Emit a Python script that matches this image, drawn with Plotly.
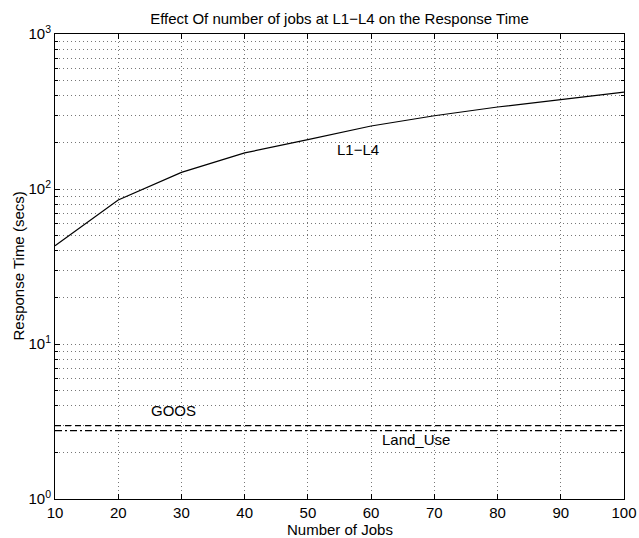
import plotly.graph_objects as go

jobs = [10, 20, 30, 40, 50, 60, 70, 80, 90, 100]
l1_l4 = [43, 85, 128, 171, 208, 255, 297, 338, 377, 422]
goos = [2.97] * len(jobs)
land_use = [2.76] * len(jobs)

x_ticks = [10, 20, 30, 40, 50, 60, 70, 80, 90, 100]
y_ticks = [1, 10, 100, 1000]
y_ticktext = ["10<sup>0</sup>", "10<sup>1</sup>", "10<sup>2</sup>", "10<sup>3</sup>"]

FONT = "Liberation Sans, Arial, Helvetica, sans-serif"
FS = 15

fig = go.Figure()
fig.add_trace(go.Scatter(x=jobs, y=l1_l4, mode="lines", line=dict(color="black", width=1.2), showlegend=False))
fig.add_trace(go.Scatter(x=jobs, y=goos, mode="lines", line=dict(color="black", width=1.2, dash="6px,4px"), showlegend=False))
fig.add_trace(go.Scatter(x=jobs, y=land_use, mode="lines", line=dict(color="black", width=1.2, dash="7px,3px,2px,3px"), showlegend=False))

fig.add_annotation(x=57.9, y=2.252, xref="x", yref="y", text="L1\u2212L4", showarrow=False,
                   font=dict(size=FS, color="black", family=FONT))
fig.add_annotation(x=28.7, y=0.574, xref="x", yref="y", text="GOOS", showarrow=False,
                   font=dict(size=FS, color="black", family=FONT))
fig.add_annotation(x=67.1, y=0.387, xref="x", yref="y", text="Land_Use", showarrow=False,
                   font=dict(size=FS, color="black", family=FONT))
# axis titles
fig.add_annotation(x=0.5, y=(499 - 529.5) / 465, xref="paper", yref="paper", text="Number of Jobs",
                   showarrow=False, xanchor="center", yanchor="middle",
                   font=dict(size=FS, color="black", family=FONT))
fig.add_annotation(x=(18 - 55) / 569, y=0.5, xref="paper", yref="paper", text="Response Time (secs)",
                   showarrow=False, xanchor="center", yanchor="middle", textangle=-90,
                   font=dict(size=FS, color="black", family=FONT))

grid_color = "#777777"
fig.update_layout(
    width=639, height=538,
    margin=dict(l=55, r=15, t=34, b=39),
    paper_bgcolor="white", plot_bgcolor="white",
    font=dict(family=FONT, size=FS, color="black"),
    title=dict(text="Effect Of number of jobs at L1\u2212L4 on the Response Time", x=(55 + 624) / 2 / 639,
               xanchor="center", y=1 - 19 / 538, yanchor="middle", font=dict(size=FS, family=FONT)),
    xaxis=dict(
        range=[10, 100], tickvals=x_ticks, ticks="inside", ticklen=5, tickcolor="black",
        showline=True, linecolor="black", linewidth=1, mirror="ticks",
        showgrid=True, gridcolor=grid_color, gridwidth=1, griddash="1px,3px",
        zeroline=False, tickfont=dict(size=FS), automargin=False, ticklabelstandoff=0,
    ),
    yaxis=dict(
        type="log", range=[0, 3], tickvals=y_ticks, ticktext=y_ticktext,
        ticks="inside", ticklen=5, tickcolor="black",
        showline=True, linecolor="black", linewidth=1, mirror="ticks",
        showgrid=True, gridcolor=grid_color, gridwidth=1, griddash="1px,3px",
        zeroline=False, tickfont=dict(size=FS), automargin=False,
        minor=dict(dtick="D1", ticks="inside", ticklen=3, tickcolor="black",
                   showgrid=True, gridcolor=grid_color, gridwidth=1, griddash="1px,3px"),
    ),
)

fig.write_html("out.html")
